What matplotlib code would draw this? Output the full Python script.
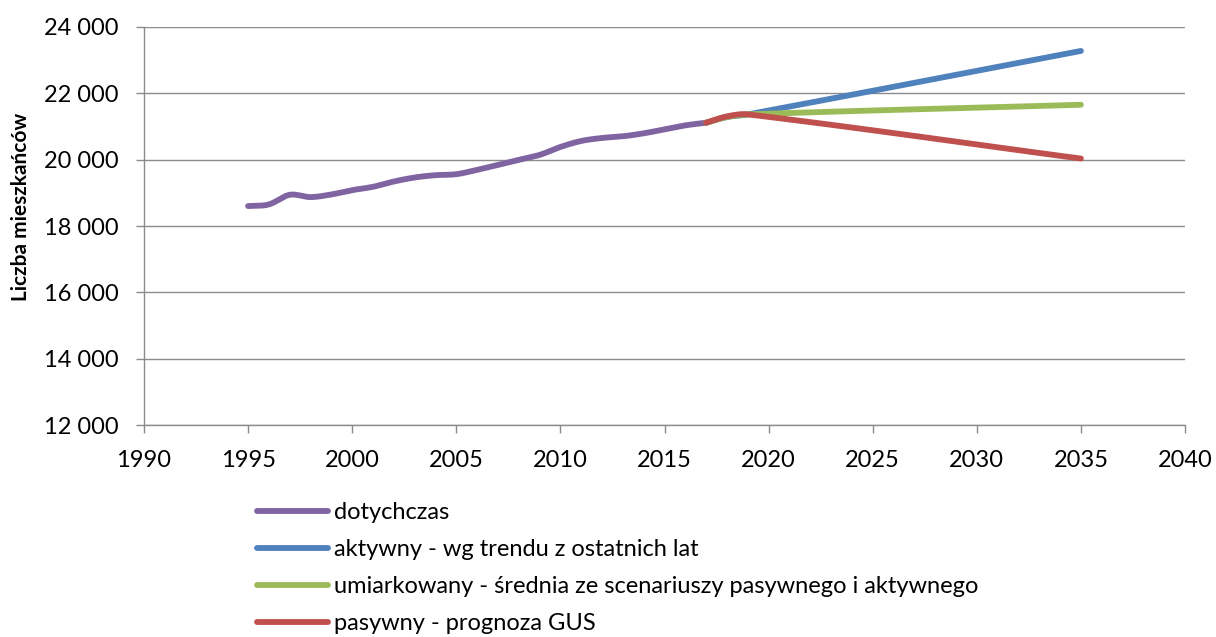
"""
Liczba mieszkańców - dotychczas i scenariusze prognozy do 2035 r.
Rysuje wykres liniowy w stylu Excela i zapisuje go jako out.png
"""

import numpy as np
import matplotlib
matplotlib.use("Agg")
import matplotlib.pyplot as plt
from matplotlib.ticker import FuncFormatter

# ── Dane ──────────────────────────────────────────────────────────────────────

years_hist = [1995, 1996, 1997, 1998, 1999, 2000, 2001, 2002, 2003, 2004, 2005, 2006,
              2007, 2008, 2009, 2010, 2011, 2012, 2013, 2014, 2015, 2016, 2017]
pop_hist = [18600, 18650, 18940, 18870, 18950, 19080, 19180, 19340, 19460, 19530, 19560,
            19690, 19840, 19990, 20140, 20380, 20560, 20650, 20700, 20790, 20910, 21030,
            21110]

years_fc = [2017, 2018, 2019, 2035]
pop_active = [21110, 21280, 21360, 23270]      # aktywny
pop_moderate = [21110, 21280, 21360, 21650]    # umiarkowany
pop_passive = [21110, 21300, 21360, 20030]     # pasywny

labels = [
    "dotychczas",
    "aktywny - wg trendu z ostatnich lat",
    "umiarkowany - średnia ze scenariuszy pasywnego i aktywnego",
    "pasywny - prognoza GUS",
]

x_ticks = list(range(1990, 2041, 5))
y_ticks = list(range(12000, 24001, 2000))

# ── Styl ──────────────────────────────────────────────────────────────────────

PURPLE = "#8064A2"
BLUE   = "#4F81BD"
GREEN  = "#9BBB59"
RED    = "#C0504D"
GRID   = "#8C8C8C"
LW     = 4.2

plt.rcParams["font.family"] = ["Lato", "DejaVu Sans"]


def smooth(x, y, n=20):
    """Wygładzenie linii (krzywa Hermite'a przez punkty, x rośnie monotonicznie)."""
    x = np.asarray(x, float)
    y = np.asarray(y, float)
    if len(x) < 3:
        return x, y
    # nachylenia w punktach
    m = np.empty_like(y)
    m[0] = (y[1] - y[0]) / (x[1] - x[0])
    m[-1] = (y[-1] - y[-2]) / (x[-1] - x[-2])
    m[1:-1] = (y[2:] - y[:-2]) / (x[2:] - x[:-2])
    t = np.linspace(0, 1, n, endpoint=False)
    h00 = 2 * t**3 - 3 * t**2 + 1
    h10 = t**3 - 2 * t**2 + t
    h01 = -2 * t**3 + 3 * t**2
    h11 = t**3 - t**2
    xs, ys = [], []
    for i in range(len(x) - 1):
        h = x[i + 1] - x[i]
        xs.extend(x[i] + t * h)
        ys.extend(h00 * y[i] + h10 * h * m[i] + h01 * y[i + 1] + h11 * h * m[i + 1])
    xs.append(x[-1])
    ys.append(y[-1])
    return np.array(xs), np.array(ys)


# ── Wykres ────────────────────────────────────────────────────────────────────

fig = plt.figure(figsize=(12.16, 6.37), dpi=100)
ax = fig.add_axes([144 / 1216, 1 - 425.3 / 637, (1185 - 144) / 1216, (425.3 - 26.7) / 637])

series = [
    (years_hist, pop_hist, PURPLE),
    (years_fc, pop_active, BLUE),
    (years_fc, pop_moderate, GREEN),
    (years_fc, pop_passive, RED),
]
handles = []
for (xv, yv, col), lab in zip(series, labels):
    sx, sy = smooth(xv, yv)
    h, = ax.plot(sx, sy, color=col, lw=LW, solid_capstyle="round", label=lab)
    handles.append(h)

ax.set_xlim(1990, 2040)
ax.set_ylim(12000, 24000)
ax.set_xticks(x_ticks)
ax.set_yticks(y_ticks)
ax.yaxis.set_major_formatter(FuncFormatter(lambda v, p: f"{int(v):,}".replace(",", " ")))

ax.grid(axis="y", color=GRID, lw=1.0)
ax.set_axisbelow(True)
for side in ("top", "right"):
    ax.spines[side].set_visible(False)
for side in ("left", "bottom"):
    ax.spines[side].set_color(GRID)
    ax.spines[side].set_linewidth(1.0)

ax.tick_params(axis="both", colors=GRID, labelcolor="black", labelsize=17,
               length=6, width=1.0, direction="out")
ax.tick_params(axis="y", pad=12)
ax.tick_params(axis="x", pad=12)

ax.set_ylabel("Liczba mieszkańców", fontsize=15, fontweight="bold")
ax.yaxis.set_label_coords(-0.109, 0.548)

fig.legend(handles=handles, labels=labels, loc="upper left",
           bbox_to_anchor=(257 / 1216, 1 - 502 / 637), frameon=False,
           fontsize=17, handlelength=3.0, handletextpad=0.25,
           labelspacing=0.68, borderpad=0, borderaxespad=0)

fig.savefig("out.png", dpi=100)
